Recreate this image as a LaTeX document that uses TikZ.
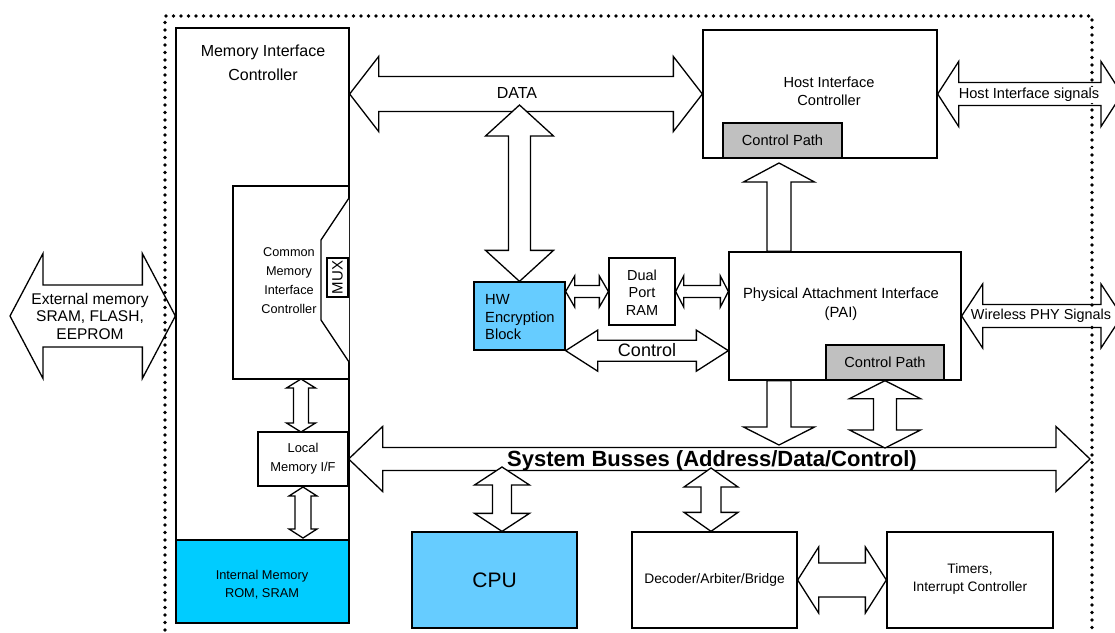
\documentclass[tikz,border=0pt]{standalone}
\usepackage{fontspec}
\setmainfont{Liberation Sans}
\usetikzlibrary{calc}

\definecolor{memcyan}{RGB}{0,204,255}
\definecolor{blkblue}{RGB}{102,204,255}
\definecolor{pathgray}{RGB}{192,192,192}

% block arrow with two heads: from, to, half shaft, half head, head length
\newcommand{\dblarrow}[5]{%
  \draw[blockarrow] (#1)
    -- ($(#1)!#5!(#2)!#4!90:(#2)$) -- ($(#1)!#5!(#2)!#3!90:(#2)$)
    -- ($(#2)!#5!(#1)!#3!-90:(#1)$) -- ($(#2)!#5!(#1)!#4!-90:(#1)$)
    -- (#2)
    -- ($(#2)!#5!(#1)!#4!90:(#1)$) -- ($(#2)!#5!(#1)!#3!90:(#1)$)
    -- ($(#1)!#5!(#2)!#3!-90:(#2)$) -- ($(#1)!#5!(#2)!#4!-90:(#2)$)
    -- cycle;}
% block arrow with one head at the second point
\newcommand{\onearrow}[5]{%
  \draw[blockarrow] ($(#1)!#3!90:(#2)$)
    -- ($(#2)!#5!(#1)!#3!-90:(#1)$) -- ($(#2)!#5!(#1)!#4!-90:(#1)$)
    -- (#2)
    -- ($(#2)!#5!(#1)!#4!90:(#1)$) -- ($(#2)!#5!(#1)!#3!90:(#1)$)
    -- ($(#1)!#3!-90:(#2)$) -- cycle;}

\begin{document}
\begin{tikzpicture}[x=1pt,y=-1pt,
    blk/.style={draw, line width=1.3pt, inner sep=0pt},
    blockarrow/.style={draw, fill=white, line width=1.3pt, line join=miter},
    dotframe/.style={line width=3.8pt, line cap=round, dash pattern=on 0pt off 7.5pt},
    txt/.style={align=center, inner sep=1pt}]
\clip (0,0) rectangle (1115,632);

% memory interface controller column
\node[blk, minimum width=173pt, minimum height=595pt] (mic) at (262.5,325.5) {};
\node[txt, font=\fontsize{16}{24}\selectfont] (mictxt) at (263,63) {Memory Interface\\Controller};
\node[blk, fill=memcyan, minimum width=173pt, minimum height=83pt] (intmem) at (262.5,581.5) {};
\node[txt, font=\fontsize{12.8}{18}\selectfont] (intmemtxt) at (262,585) {Internal Memory\\ROM, SRAM};

\node[blk, minimum width=116pt, minimum height=193pt] (cmic) at (291,282.5) {};
\node[txt, font=\fontsize{12.7}{19}\selectfont] (cmictxt) at (289,281) {Common\\Memory\\Interface\\Controller};
\draw[line width=1.3pt, fill=white] (349,198) -- (321,240) -- (321,320) -- (349,362);
\node[blk, rotate=90, minimum width=39pt, minimum height=21pt, font=\fontsize{15}{15}\selectfont] (mux) at (337.5,277.5) {MUX};

\node[blk, fill=white, minimum width=90pt, minimum height=54pt] (lmif) at (303,459) {};
\node[txt, font=\fontsize{12.9}{19}\selectfont] (lmiftxt) at (303,458.5) {Local\\Memory I/F};

% encryption and ram
\node[blk, fill=blkblue, minimum width=91pt, minimum height=68pt] (hw) at (519.5,316) {};
\node[txt, align=left, anchor=west, font=\fontsize{14.7}{17.5}\selectfont] (hwtxt) at (484,317.5) {HW\\Encryption\\Block};
\node[blk, minimum width=66pt, minimum height=67pt] (dpram) at (642,291.5) {};
\node[txt, font=\fontsize{14.5}{17.5}\selectfont] (dpramtxt) at (642,292.5) {Dual\\Port\\RAM};

% host and physical interfaces
\node[blk, minimum width=234pt, minimum height=128pt] (host) at (820,94) {};
\node[txt, font=\fontsize{14.6}{18}\selectfont] (hosttxt) at (829,91) {Host Interface\\Controller};
\node[blk, fill=pathgray, minimum width=119pt, minimum height=35pt, font=\fontsize{14.6}{18}\selectfont] (hostcp) at (782.5,140.5) {Control Path};

\node[blk, minimum width=232pt, minimum height=128pt] (pai) at (845,316) {};
\node[txt, font=\fontsize{14.8}{19}\selectfont] (paitxt) at (841,304.5) {Physical Attachment Interface\\(PAI)};
\node[blk, fill=pathgray, minimum width=118pt, minimum height=35pt, font=\fontsize{14.6}{18}\selectfont] (paicp) at (885,362.5) {Control Path};

% bottom row
\node[blk, fill=blkblue, minimum width=165pt, minimum height=96pt, font=\fontsize{21}{21}\selectfont] (cpu) at (494.5,580) {CPU};
\node[blk, minimum width=165pt, minimum height=96pt, font=\fontsize{13.8}{18}\selectfont] (dec) at (714.5,580) {Decoder/Arbiter/Bridge};
\node[blk, minimum width=166pt, minimum height=96pt] (tim) at (970,580) {};
\node[txt, font=\fontsize{13.7}{18}\selectfont] (timtxt) at (970,579) {Timers,\\Interrupt Controller};

% connector end points
\coordinate (extL) at (10,316);
\coordinate (extR) at (extL -| mic.west);
\coordinate (dataL) at (host.west -| mic.east);
\coordinate (dataT) at (hw.north |- 0,105);
\coordinate (hwR) at (dpram.west -| hw.east);
\coordinate (paiL) at (dpram.east -| pai.west);
\coordinate (ctlR) at (hw.south east -| pai.west);
\coordinate (hostX) at (host.east -| 1122,0);
\coordinate (phyX) at (pai.east -| 1122,0);
\coordinate (upT) at (779,163);
\coordinate (upB) at (upT |- pai.north);
\coordinate (dnT) at (upT |- pai.south);
\coordinate (dnB) at (779,445);
\coordinate (cpB) at (paicp.south |- 0,448);
\coordinate (busL) at (lmif.east);
\coordinate (busR) at (1090,459);
\coordinate (cpuT) at (502,467);
\coordinate (cpuB) at (cpuT |- cpu.north);
\coordinate (decT) at (711,468);
\coordinate (decB) at (decT |- dec.north);
\coordinate (lmA) at (301,379);
\coordinate (lmB) at (301,432);
\coordinate (lmC) at (303,487);
\coordinate (lmD) at (303,538);

% block arrows
\dblarrow{extL}{extR}{31pt}{62.5pt}{33pt}
\dblarrow{dataL}{host.west}{17.5pt}{37.5pt}{29pt}
\dblarrow{dataT}{hw.north}{11pt}{34pt}{31pt}
\dblarrow{hwR}{dpram.west}{6pt}{15.5pt}{9pt}
\dblarrow{dpram.east}{paiL}{6pt}{15.5pt}{8pt}
\dblarrow{hw.south east}{ctlR}{10.5pt}{20.5pt}{32pt}
\dblarrow{host.east}{hostX}{11.5pt}{32.5pt}{21pt}
\dblarrow{pai.east}{phyX}{11.5pt}{32pt}{21pt}
\onearrow{upB}{upT}{12pt}{35.5pt}{19pt}
\dblarrow{lmA}{lmB}{7.5pt}{14.5pt}{9pt}
\dblarrow{lmC}{lmD}{8pt}{14pt}{9pt}
\dblarrow{busL}{busR}{11.5pt}{32.5pt}{34pt}
\onearrow{dnT}{dnB}{12pt}{35.5pt}{18pt}
\dblarrow{paicp.south}{cpB}{11.5pt}{35.5pt}{18pt}
\dblarrow{cpuT}{cpuB}{9.5pt}{27.5pt}{18pt}
\dblarrow{decT}{decB}{10pt}{27pt}{19pt}
\dblarrow{dec.east}{tim.west}{17pt}{33pt}{21pt}

% chip boundary
\draw[dotframe] (165,645) -- (165,16) -- (1092,16) -- (1092,645);

% arrow labels
\node[txt, font=\fontsize{15.5}{17.5}\selectfont] (exttxt) at (90,316) {External memory\\SRAM, FLASH,\\EEPROM};
\node[txt, font=\fontsize{16}{16}\selectfont] (datatxt) at (517,93) {DATA};
\node[txt, font=\fontsize{18}{18}\selectfont] (ctltxt) at (647,350) {Control};
\node[txt, fill=white, font=\fontsize{14.6}{16}\selectfont] (hostsig) at (1029,95) {Host Interface signals};
\node[txt, fill=white, font=\fontsize{14.4}{16}\selectfont] (physig) at (1041,316) {Wireless PHY Signals};
\node[txt, font=\bfseries\fontsize{22}{22}\selectfont] (bustxt) at (712,461) {System Busses (Address/Data/Control)};
\end{tikzpicture}
\end{document}
